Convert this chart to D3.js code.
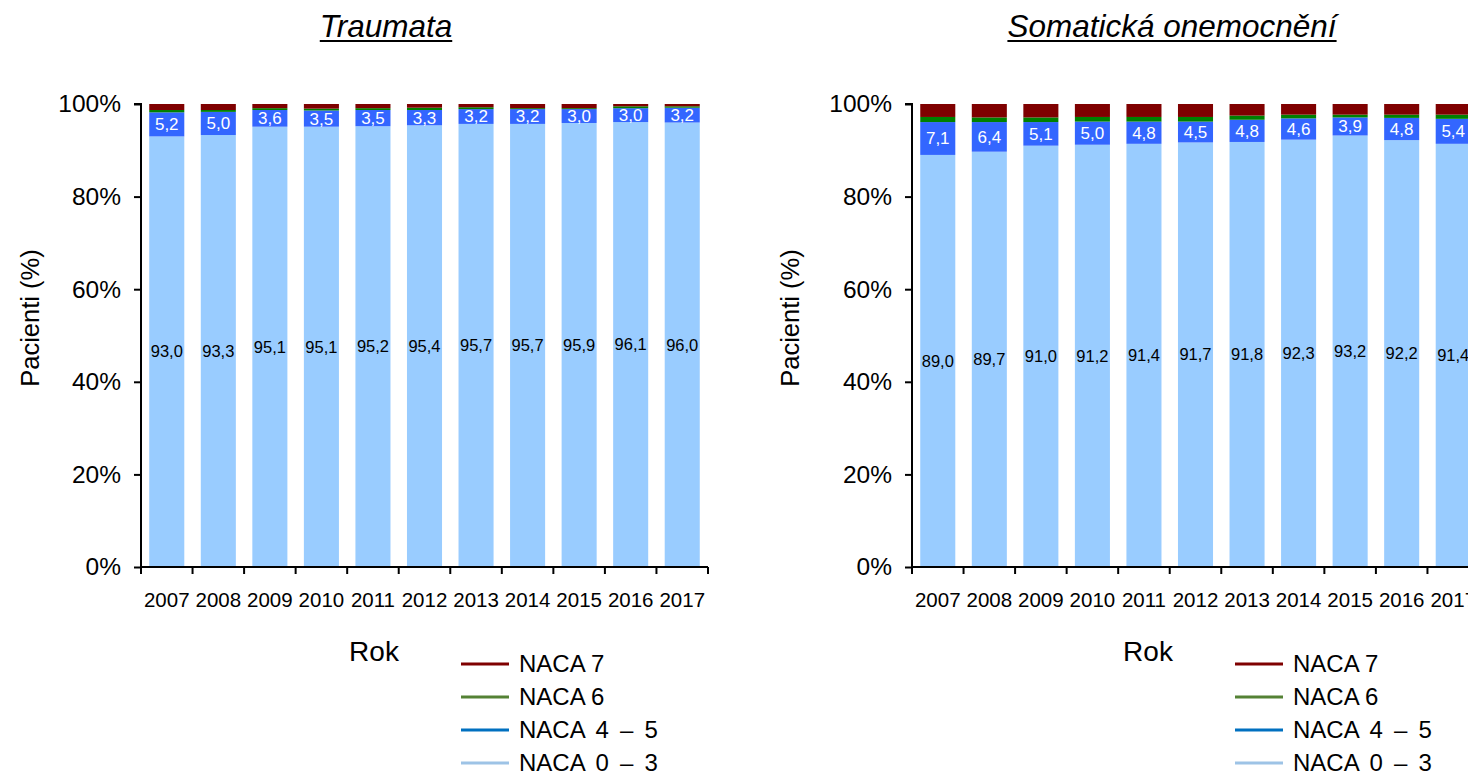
<!DOCTYPE html>
<html>
<head>
<meta charset="utf-8">
<script src="https://cdn.jsdelivr.net/npm/d3@7"></script>
<style>
  html, body { margin: 0; padding: 0; background: #fff; }
  svg { display: block; font-family: "Liberation Sans", Arial, sans-serif; }
</style>
</head>
<body>
<svg id="chart" width="1468" height="774"></svg>
<script>
const years = ["2007","2008","2009","2010","2011","2012","2013","2014","2015","2016","2017"];
const yTicks = [0, 20, 40, 60, 80, 100];
const seriesNames = ["NACA 0 – 3", "NACA 4 – 5", "NACA 6", "NACA 7"];

// Traumata
const traumaNaca03 = [93.0, 93.3, 95.1, 95.1, 95.2, 95.4, 95.7, 95.7, 95.9, 96.1, 96.0];
const traumaNaca45 = [5.2, 5.0, 3.6, 3.5, 3.5, 3.3, 3.2, 3.2, 3.0, 3.0, 3.2];
const traumaNaca6  = [0.5, 0.4, 0.4, 0.4, 0.4, 0.5, 0.4, 0.2, 0.2, 0.4, 0.3];
const traumaNaca7  = [1.3, 1.3, 0.9, 1.0, 0.9, 0.8, 0.7, 0.9, 0.9, 0.5, 0.5];

// Somatická onemocnění
const somaNaca03 = [89.0, 89.7, 91.0, 91.2, 91.4, 91.7, 91.8, 92.3, 93.2, 92.2, 91.4];
const somaNaca45 = [7.1, 6.4, 5.1, 5.0, 4.8, 4.5, 4.8, 4.6, 3.9, 4.8, 5.4];
const somaNaca6  = [1.1, 1.0, 1.0, 1.0, 1.0, 1.0, 0.9, 0.8, 0.6, 0.7, 0.9];
const somaNaca7  = [2.8, 2.9, 2.9, 2.8, 2.8, 2.8, 2.5, 2.3, 2.3, 2.3, 2.3];

const barColors = ["#99ccff", "#3366ff", "#008000", "#7f0000"];
const legendColors = ["#9dc3e6", "#0070c0", "#548235", "#7f0000"];

const svg = d3.select("#chart");
const fmt = v => d3.format(".1f")(v).replace(".", ",");

function drawPanel(opts) {
  const { left, right, title, titleX, s03, s45, s6, s7, legendX, yTitleX, rokX } = opts;
  const top = 104, bottom = 567;
  const g = svg.append("g");

  const x = d3.scaleBand().domain(years).range([left, right]).paddingInner(0.32).paddingOuter(0.16);
  const y = d3.scaleLinear().domain([0, 100]).range([bottom, top]);

  const rows = years.map((yr, i) => ({ year: yr, n03: s03[i], n45: s45[i], n6: s6[i], n7: s7[i] }));
  const stack = d3.stack().keys(["n03", "n45", "n6", "n7"])(rows);

  stack.forEach((layer, li) => {
    g.append("g").selectAll("rect").data(layer).join("rect")
      .attr("x", d => x(d.data.year))
      .attr("width", x.bandwidth())
      .attr("y", d => y(d[1]))
      .attr("height", d => y(d[0]) - y(d[1]))
      .attr("fill", barColors[li]);
  });

  // labels for NACA 0-3 and 4-5
  [0, 1].forEach(li => {
    g.append("g").selectAll("text").data(stack[li]).join("text")
      .attr("x", d => x(d.data.year) + x.bandwidth() / 2)
      .attr("y", d => y((d[0] + d[1]) / 2))
      .attr("dy", "0.35em")
      .attr("text-anchor", "middle")
      .attr("font-size", li === 0 ? "16.5px" : "17px")
      .attr("fill", li === 0 ? "#000" : "#fff")
      .text(d => fmt(d[1] - d[0]));
  });

  // y axis
  const yAxis = g.append("g").attr("transform", `translate(${left},0)`)
    .call(d3.axisLeft(y).tickValues(yTicks).tickFormat(d => d + "%").tickSize(7).tickPadding(13));
  yAxis.selectAll("path, line").attr("stroke", "#000").attr("stroke-width", 2);
  yAxis.select(".domain").attr("d", `M-7,${top}H0V${bottom}`);
  yAxis.selectAll("text").attr("font-size", "24.5px").attr("font-family", "'Liberation Sans', Arial, sans-serif").attr("fill", "#000");

  // x axis
  const xAxis = g.append("g").attr("transform", `translate(0,${bottom})`);
  xAxis.append("line").attr("x1", left).attr("x2", right).attr("y1", 0).attr("y2", 0)
    .attr("stroke", "#000").attr("stroke-width", 2);
  const step = x.step();
  const bounds = d3.range(years.length + 1).map(i => x(years[0]) - x.step() * x.paddingOuter() + i * step);
  xAxis.selectAll("line.tick").data(bounds).join("line").attr("class", "tick")
    .attr("x1", d => d).attr("x2", d => d).attr("y1", 0).attr("y2", 7)
    .attr("stroke", "#000").attr("stroke-width", 2);
  xAxis.selectAll("text").data(years).join("text")
    .attr("x", d => x(d) + x.bandwidth() / 2)
    .attr("y", 33)
    .attr("dy", "0.35em")
    .attr("text-anchor", "middle")
    .attr("font-size", "20.5px")
    .text(d => d);

  // axis titles
  g.append("text")
    .attr("transform", `translate(${yTitleX},318) rotate(-90)`)
    .attr("dy", "0.35em")
    .attr("text-anchor", "middle")
    .attr("font-size", "25.5px")
    .text("Pacienti (%)");
  g.append("text")
    .attr("x", rokX).attr("y", 651).attr("dy", "0.35em")
    .attr("text-anchor", "middle").attr("font-size", "28px")
    .text("Rok");

  // title
  const t = g.append("text")
    .attr("x", titleX).attr("y", 37)
    .attr("text-anchor", "middle")
    .attr("font-size", "31.5px")
    .attr("font-style", "italic")
    .text(title);
  const tw = t.node().getComputedTextLength();
  g.append("line").attr("x1", titleX - tw / 2).attr("x2", titleX + tw / 2)
    .attr("y1", 41).attr("y2", 41).attr("stroke", "#000").attr("stroke-width", 2);

  // legend (reverse order)
  const legendItems = seriesNames.map((n, i) => ({ name: n, color: legendColors[i] })).reverse();
  const lg = g.append("g");
  legendItems.forEach((it, i) => {
    const yy = 664 + i * 33;
    lg.append("line").attr("x1", legendX).attr("x2", legendX + 48).attr("y1", yy).attr("y2", yy)
      .attr("stroke", it.color).attr("stroke-width", 3);
    const tx = lg.append("text").attr("x", legendX + 58).attr("y", yy).attr("dy", "0.35em")
      .attr("font-size", "24px").text(it.name);
    if (it.name.includes("–")) tx.attr("word-spacing", "4.5px");
  });
}

drawPanel({ left: 141, right: 708, title: "Traumata", titleX: 386,
  s03: traumaNaca03, s45: traumaNaca45, s6: traumaNaca6, s7: traumaNaca7,
  legendX: 461, yTitleX: 30, rokX: 374 });
drawPanel({ left: 912, right: 1479, title: "Somatická onemocnění", titleX: 1172,
  s03: somaNaca03, s45: somaNaca45, s6: somaNaca6, s7: somaNaca7,
  legendX: 1235, yTitleX: 790, rokX: 1148 });
</script>
</body>
</html>
